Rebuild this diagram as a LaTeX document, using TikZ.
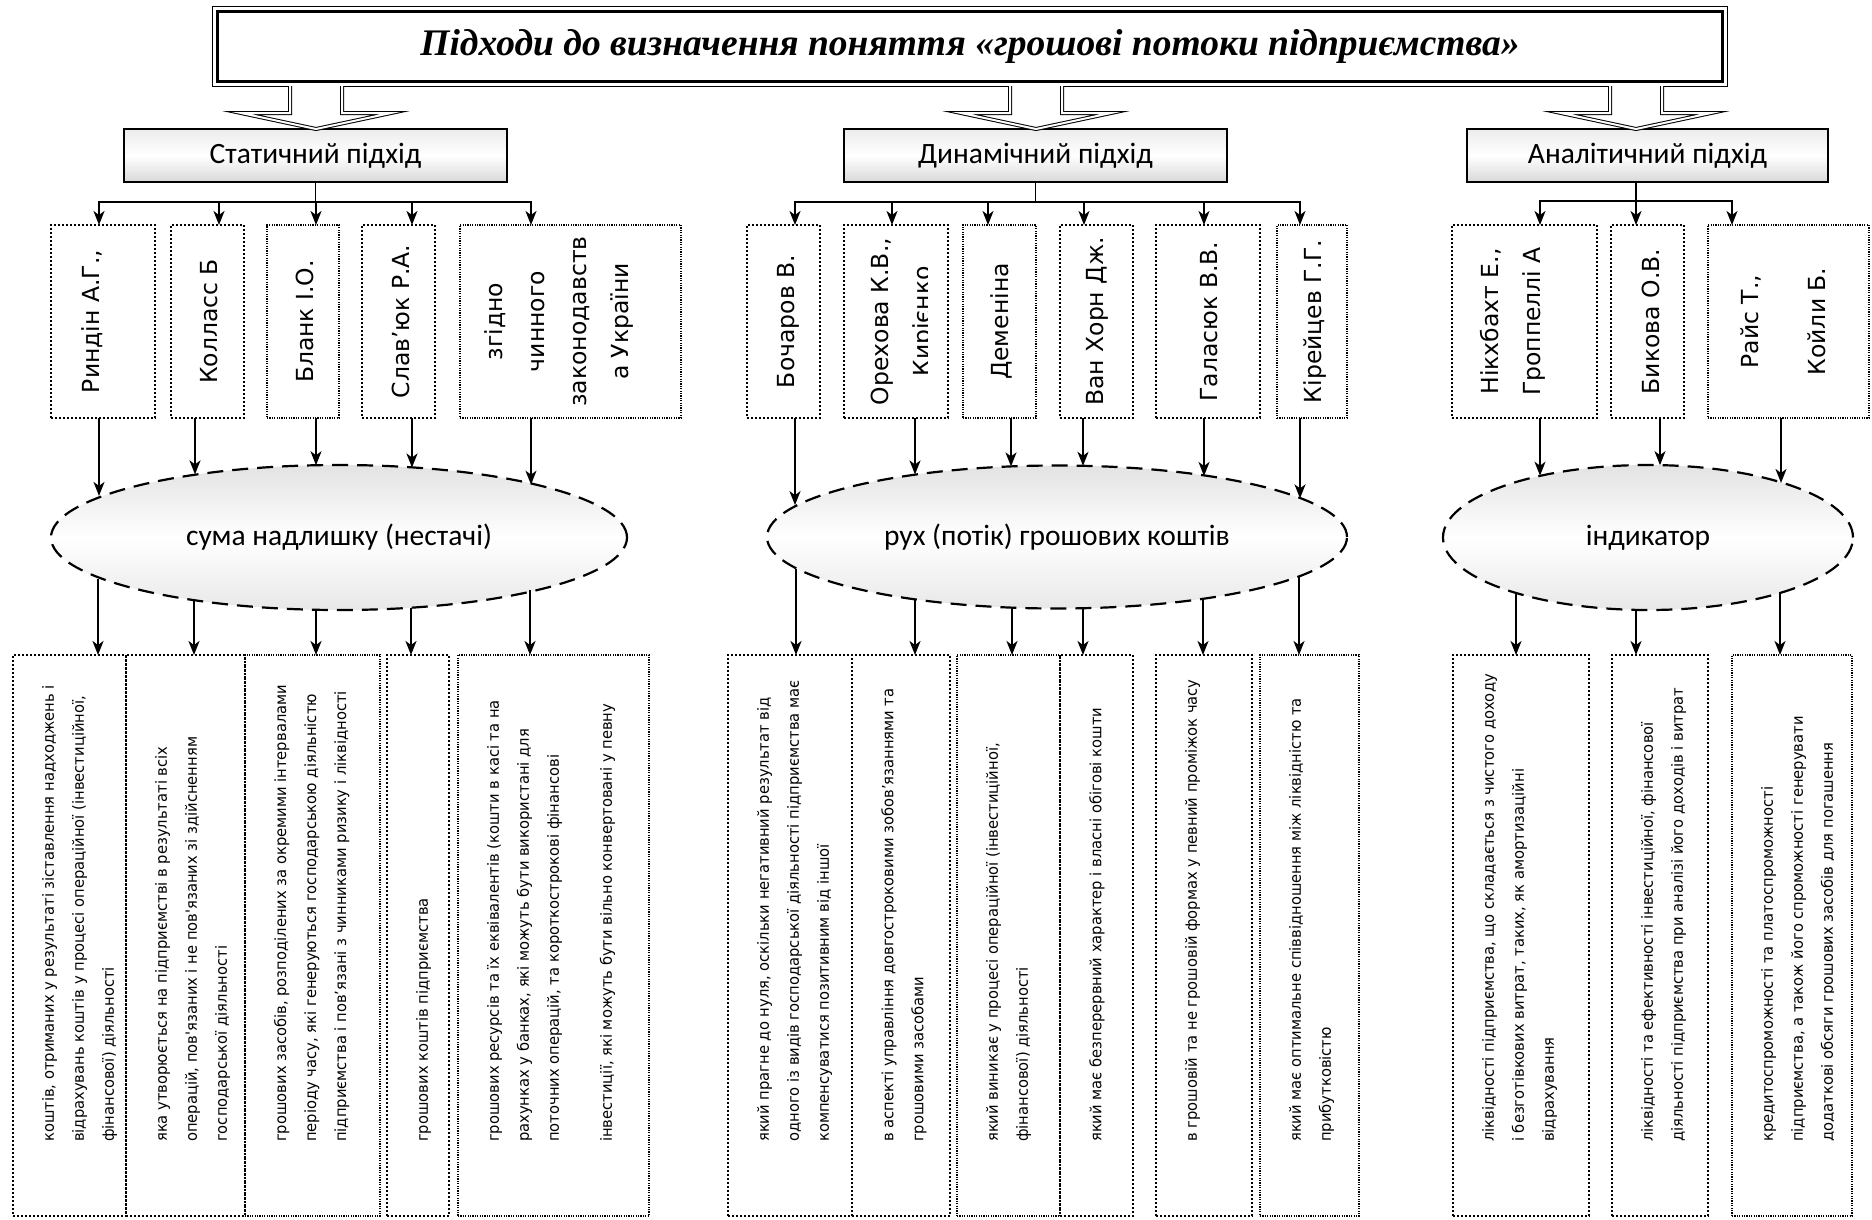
\documentclass[tikz,border=0pt]{standalone}
\usepackage{fontspec}
\setmainfont{Liberation Serif}
\newfontfamily\calfont{Carlito}
\newfontfamily\dvfont{DejaVu Sans}
\newfontfamily\narrowfont[FakeStretch=0.95]{DejaVu Sans}
\usetikzlibrary{shapes.geometric,arrows.meta}

\tikzset{
  arr/.style={line width=1.8pt,-{Stealth[length=14pt,width=11pt,inset=4pt]}},
  hollowarr/.style={line width=1pt,double,double distance=2pt,fill=white},
  apbox/.style={draw,line width=1.8pt,top color=gray!15,bottom color=gray!30,middle color=white,
    font=\calfont\fontsize{29.5}{33}\selectfont,inner sep=0,outer sep=0,minimum height=53},
  ellbox/.style={ellipse,draw,line width=2.2pt,dash pattern=on 16pt off 9pt,
    top color=gray!22,bottom color=gray!18,middle color=white,
    font=\calfont\fontsize{29.5}{33}\selectfont,inner sep=0,outer sep=0},
  dotbox/.style={draw,line width=#1,dash pattern=on #1 off #1,inner sep=0,outer sep=0},
  autext/.style={rotate=90,align=center,inner sep=0,font=\dvfont\fontsize{23.5}{42}\selectfont},
  bottext/.style={rotate=90,align=left,inner sep=0,anchor=north west,
    font=\narrowfont\fontsize{15.5}{30}\selectfont}
}

\begin{document}
\begin{tikzpicture}[x=1pt,y=-1pt]
\useasboundingbox (0,0) rectangle (1872,1219);
\def\aubox#1#2#3#4#5#6{
  \node[dotbox=#5,minimum width=#3-#2,minimum height=193] (#1) at ({(#2+#3)/2},321.5) {};
  \node[autext] (#1t) at (#4,321.5) {#6};
}
\def\botbox#1#2#3#4#5{
  \node[dotbox=#4,minimum width=#3-#2,minimum height=561] (#1) at ({(#2+#3)/2},935.5) {};
  \node[bottext] (#1t) at (#2+29,1142) {#5};
}
\def\hollow#1#2{
  \draw[hollowarr] (#2-26,0 |- title.south) -- (#2-26,113) -- (#2-75,113) -- (#2,0 |- #1.north)
     -- (#2+75,113) -- (#2+26,113) -- (#2+26,0 |- title.south);
}
    % title and the three approaches
\node[minimum width=1514,minimum height=79,inner sep=0,
  font=\bfseries\itshape\fontsize{37.5}{42}\selectfont] (title) at (970,46.5)
  {Підходи до визначення поняття «грошові потоки підприємства»};
\draw[line width=1.2pt] (title.north west) rectangle (title.south east);
\draw[line width=2.6pt] ([shift={(4.5,4.5)}]title.north west) rectangle ([shift={(-4.5,-4.5)}]title.south east);
\node[apbox,minimum width=383] (stat) at (315.5,155.5) {Статичний підхід};
\node[apbox,minimum width=383] (dyn) at (1035.5,155.5) {Динамічний підхід};
\node[apbox,minimum width=361] (anl) at (1647.5,155.5) {Аналітичний підхід};
\hollow{stat}{316}
\hollow{dyn}{1036}
\hollow{anl}{1636}
    % authors
\aubox{a1}{51}{155}{92}{2pt}{Риндін А.Г.,}
\aubox{a2}{171}{244}{209}{2pt}{Колласс Б}
\aubox{a3}{267}{339}{305}{1.2pt}{Бланк І.О.}
\aubox{a4}{362}{435}{401}{2pt}{Слав’юк Р.А.}
\aubox{a5}{460}{681}{559}{1.2pt}{згідно\\чинного\\законодавств\\а України}
\aubox{d1}{747}{820}{788}{2pt}{Бочаров В.}
\node[dotbox=2pt,minimum width=104,minimum height=193] (d2) at (896,321.5) {};
\begin{scope}
  \clip (d2.north west) rectangle (927,0 |- d2.south);
  \node[autext] (d2t) at (903,321.5) {Орехова К.В.,\\Кирієнко};
\end{scope}
\aubox{d3}{963}{1036}{1001}{1.2pt}{Деменіна}
\aubox{d4}{1060}{1133}{1097}{2pt}{Ван Хорн Дж.}
\aubox{d5}{1156}{1260}{1209}{2pt}{Галасюк В.В.}
\aubox{d6}{1277}{1347}{1315}{1.2pt}{Кірейцев Г.Г.}
\aubox{n1}{1452}{1597}{1513}{2pt}{Нікхбахт Е.,\\Гроппеллі А}
\aubox{n2}{1611}{1684}{1651}{2pt}{Бикова О.В.}
\aubox{n3}{1708}{1869}{1783}{1.2pt}{Райс Т.,\\[25pt]Койли Б.}
\foreach \n/\x in {a1/99,a2/219,a3/316,a4/412,a5/531}
  \draw[arr] (stat.south) -- ++(0,20) -| (\x,0 |- \n.north);
\foreach \n/\x in {d1/795,d2/892,d3/988,d4/1084,d5/1204,d6/1300}
  \draw[arr] (dyn.south) -- ++(0,20) -| (\x,0 |- \n.north);
\foreach \n/\x in {n1/1540,n2/1636,n3/1732}
  \draw[arr] (1636,0 |- anl.south) -- ++(0,19) -| (\x,0 |- \n.north);
    % ellipses
\node[ellbox,minimum width=576,minimum height=145] (e1) at (339,537.5) {сума надлишку (нестачі)};
\node[ellbox,minimum width=580,minimum height=143] (e2) at (1057,537) {рух (потік) грошових коштів};
\node[ellbox,minimum width=410,minimum height=145] (e3) at (1648,537.5) {індикатор};
    % definitions
\botbox{b1}{13}{126}{2pt}{коштів, отриманих у результаті зіставлення надходжень і\\відрахувань коштів у процесі операційної (інвестиційної,\\фінансової) діяльності}
\botbox{b2}{126}{245}{2pt}{яка утворюється на підприємстві в результаті всіх\\операцій, пов'язаних і не пов'язаних зі здійсненням\\господарської діяльності}
\botbox{b3}{245}{380}{1.2pt}{грошових засобів, розподілених за окремими інтервалами\\періоду часу, які генеруються господарською діяльністю\\підприємства і пов’язані з чинниками ризику і ліквідності}
\botbox{b4}{387}{449}{2pt}{грошових коштів підприємства}
\botbox{b5}{458}{649}{1.2pt}{грошових ресурсів та їх еквівалентів (кошти в касі та на\\рахунках у банках, які можуть бути використані для\\поточних операцій, та короткострокові фінансові\\[23pt]інвестиції, які можуть бути вільно конвертовані у певну}
\botbox{c1}{728}{852}{2pt}{який прагне до нуля, оскільки негативний результат від\\одного із видів господарської діяльності підприємства має\\компенсуватися позитивним від іншої}
\botbox{c2}{852}{950}{2pt}{в аспекті управління довгостроковими зобов’язаннями та\\грошовими засобами}
\botbox{c3}{957}{1060}{1.2pt}{який виникає у процесі операційної (інвестиційної,\\фінансової) діяльності}
\botbox{c4}{1060}{1133}{2pt}{який має безперервний характер і власні обігові кошти}
\botbox{c5}{1156}{1252}{2pt}{в грошовій та не грошовій формах у певний проміжок часу}
\botbox{c6}{1260}{1359}{1.2pt}{який має оптимальне співвідношення між ліквідністю та\\прибутковістю}
\botbox{m1}{1453}{1589}{2pt}{ліквідності підприємства, що складається з чистого доходу\\і безготівкових витрат, таких, як амортизаційні\\відрахування}
\botbox{m2}{1612}{1708}{2pt}{ліквідності та ефективності інвестиційної, фінансової\\діяльності підприємства при аналізі його доходів і витрат}
\node[dotbox=1.2pt,minimum width=120,minimum height=561] (m3) at (1792,935.5) {};
\begin{scope}
  \clip (m3.north west) rectangle (1833,0 |- m3.south);
  \node[bottext] (m3t) at (1761,1142) {кредитоспроможності та платоспроможності\\підприємства, а також його спроможності генерувати\\додаткові обсяги грошових засобів для погашення};
\end{scope}
    % arrows into and out of the ellipses
\def\cx{339}\def\rx{288}\def\ry{72.5}
\foreach \n/\x in {a1/99,a2/195,a3/316,a4/412,a5/531} {
  \pgfmathsetmacro\ang{atan2(\ry*sqrt(1-((\x-\cx)/\rx)^2),\x-\cx)}
  \draw[arr] (\x,0 |- \n.south) -- (\x,0 |- e1.\ang);
}
\foreach \n/\x in {b1/98,b2/194,b3/316,b4/411,b5/530} {
  \pgfmathsetmacro\ang{atan2(-\ry*sqrt(1-((\x-\cx)/\rx)^2),\x-\cx)}
  \draw[arr] (\x,0 |- e1.\ang) -- (\x,0 |- \n.north);
}
\def\cx{1057}\def\rx{290}\def\ry{71.5}
\foreach \n/\x in {d1/795,d2/915,d3/1011,d4/1083,d5/1204,d6/1300} {
  \pgfmathsetmacro\ang{atan2(\ry*sqrt(1-((\x-\cx)/\rx)^2),\x-\cx)}
  \draw[arr] (\x,0 |- \n.south) -- (\x,0 |- e2.\ang);
}
\foreach \n/\x in {c1/796,c2/915,c3/1012,c4/1083,c5/1203,c6/1299} {
  \pgfmathsetmacro\ang{atan2(-\ry*sqrt(1-((\x-\cx)/\rx)^2),\x-\cx)}
  \draw[arr] (\x,0 |- e2.\ang) -- (\x,0 |- \n.north);
}
\def\cx{1648}\def\rx{205}\def\ry{72.5}
\foreach \n/\x in {n1/1540,n2/1660,n3/1781} {
  \pgfmathsetmacro\ang{atan2(\ry*sqrt(1-((\x-\cx)/\rx)^2),\x-\cx)}
  \draw[arr] (\x,0 |- \n.south) -- (\x,0 |- e3.\ang);
}
\foreach \n/\x in {m1/1516,m2/1636,m3/1780} {
  \pgfmathsetmacro\ang{atan2(-\ry*sqrt(1-((\x-\cx)/\rx)^2),\x-\cx)}
  \draw[arr] (\x,0 |- e3.\ang) -- (\x,0 |- \n.north);
}
\end{tikzpicture}
\end{document}
